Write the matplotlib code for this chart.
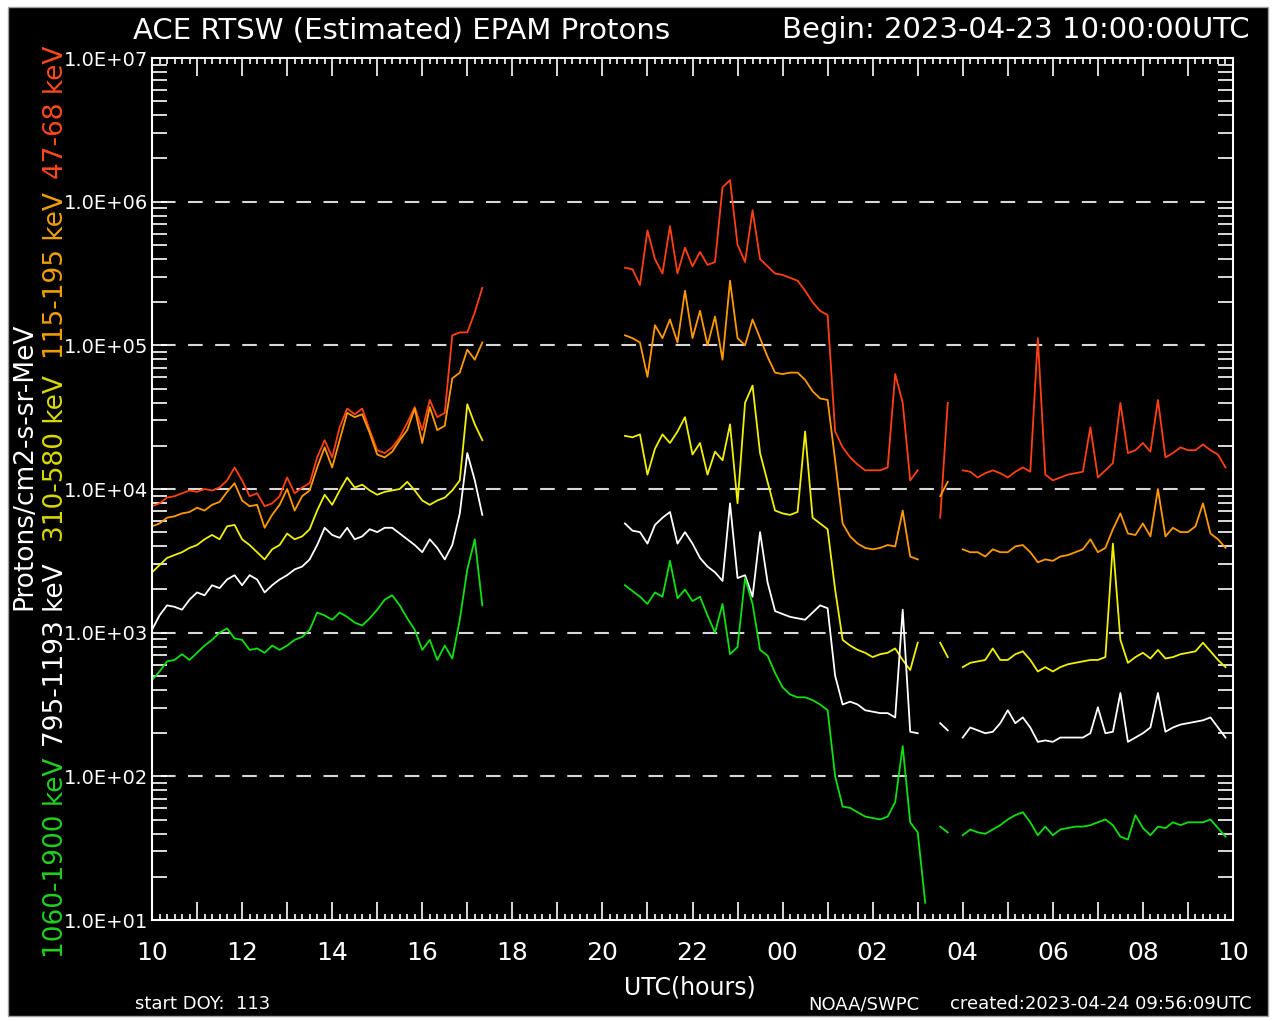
import numpy as np
import matplotlib
matplotlib.use("Agg")
import matplotlib.pyplot as plt
from matplotlib.patches import Rectangle
from matplotlib.ticker import FixedLocator, FixedFormatter, LogLocator, FuncFormatter, NullFormatter

W, H = 1275, 1021

# sample times, hours from 00 UT 2023-04-23 (10-minute samples)
t_a = np.linspace(10.0, 17 + 2 / 6, 45)       # 10:00 - 17:20
t_b = np.linspace(20.5, 27.0, 40)             # 20:30 - 03:00
t_b_green = np.linspace(20.5, 27 + 1 / 6, 41) # green runs one sample longer
t_c = np.array([27.5, 27 + 4 / 6])            # short burst near 03:30
t_d = np.linspace(28.0, 33 + 5 / 6, 36)       # 04:00 - 09:50

# log10 of flux (protons/cm2-s-sr-MeV)
p47_a = [3.88, 3.90, 3.94, 3.95, 3.97, 3.99, 3.98, 4.00, 3.99, 4.01,
         4.06, 4.15, 4.06, 3.95, 3.97, 3.88, 3.90, 3.95, 4.08, 3.97,
         4.01, 4.04, 4.22, 4.34, 4.22, 4.43, 4.56, 4.52, 4.56, 4.41,
         4.27, 4.25, 4.29, 4.36, 4.46, 4.57, 4.41, 4.62, 4.50, 4.53,
         5.07, 5.09, 5.09, 5.23, 5.40]
p47_b = [5.54, 5.53, 5.42, 5.80, 5.60, 5.50, 5.83, 5.50, 5.68, 5.55,
         5.65, 5.56, 5.58, 6.10, 6.15, 5.70, 5.58, 5.94, 5.60, 5.55,
         5.50, 5.49, 5.47, 5.45, 5.38, 5.30, 5.24, 5.21, 4.40, 4.29,
         4.22, 4.17, 4.13, 4.13, 4.13, 4.15, 4.80, 4.60, 4.06, 4.13]
p47_c = [3.80, 4.60]
p47_d = [4.13, 4.12, 4.08, 4.11, 4.13, 4.11, 4.08, 4.12, 4.15, 4.12,
         5.05, 4.10, 4.06, 4.08, 4.10, 4.11, 4.12, 4.43, 4.08, 4.13,
         4.18, 4.60, 4.25, 4.27, 4.32, 4.26, 4.62, 4.22, 4.25, 4.29,
         4.27, 4.27, 4.31, 4.27, 4.24, 4.15]

p115_a = [3.74, 3.76, 3.80, 3.81, 3.83, 3.84, 3.87, 3.85, 3.89, 3.91,
          3.98, 4.04, 3.92, 3.88, 3.89, 3.73, 3.82, 3.89, 4.00, 3.85,
          3.95, 3.99, 4.15, 4.29, 4.15, 4.34, 4.53, 4.50, 4.52, 4.39,
          4.24, 4.22, 4.26, 4.34, 4.41, 4.56, 4.32, 4.57, 4.41, 4.44,
          4.77, 4.81, 4.97, 4.90, 5.02]
p115_b = [5.07, 5.05, 5.02, 4.78, 5.14, 5.05, 5.18, 5.02, 5.38, 5.05,
          5.24, 5.00, 5.20, 4.90, 5.45, 5.05, 5.00, 5.18, 5.05, 4.92,
          4.81, 4.80, 4.81, 4.81, 4.76, 4.68, 4.63, 4.62, 4.20, 3.76,
          3.67, 3.62, 3.59, 3.58, 3.59, 3.61, 3.60, 3.85, 3.53, 3.51]
p115_c = [3.95, 4.05]
p115_d = [3.58, 3.56, 3.56, 3.53, 3.58, 3.56, 3.56, 3.60, 3.61, 3.56,
          3.49, 3.51, 3.50, 3.53, 3.54, 3.56, 3.58, 3.65, 3.56, 3.59,
          3.72, 3.83, 3.69, 3.68, 3.76, 3.67, 4.00, 3.67, 3.73, 3.70,
          3.70, 3.74, 3.90, 3.69, 3.65, 3.59]

p310_a = [3.42, 3.47, 3.52, 3.54, 3.56, 3.59, 3.61, 3.65, 3.68, 3.65,
          3.74, 3.75, 3.65, 3.61, 3.56, 3.51, 3.58, 3.61, 3.69, 3.65,
          3.67, 3.72, 3.85, 3.96, 3.89, 3.99, 4.08, 4.01, 4.03, 3.99,
          3.96, 3.98, 3.99, 4.00, 4.05, 3.99, 3.92, 3.89, 3.92, 3.94,
          3.99, 4.06, 4.59, 4.45, 4.34]
p310_b = [4.37, 4.36, 4.38, 4.10, 4.28, 4.38, 4.32, 4.40, 4.50, 4.24,
          4.32, 4.10, 4.26, 4.20, 4.45, 3.90, 4.60, 4.72, 4.25, 4.05,
          3.85, 3.83, 3.82, 3.84, 4.40, 3.80, 3.76, 3.72, 3.30, 2.95,
          2.91, 2.88, 2.86, 2.83, 2.85, 2.86, 2.89, 2.81, 2.74, 2.93]
p310_c = [2.93, 2.83]
p310_d = [2.76, 2.79, 2.80, 2.81, 2.89, 2.81, 2.81, 2.85, 2.87, 2.81,
          2.73, 2.76, 2.73, 2.76, 2.78, 2.79, 2.80, 2.81, 2.81, 2.83,
          3.62, 2.95, 2.79, 2.83, 2.86, 2.82, 2.88, 2.82, 2.83, 2.85,
          2.86, 2.87, 2.93, 2.87, 2.81, 2.76]

p795_a = [3.02, 3.12, 3.19, 3.18, 3.16, 3.23, 3.28, 3.26, 3.33, 3.31,
          3.37, 3.40, 3.33, 3.40, 3.37, 3.28, 3.33, 3.37, 3.40, 3.44,
          3.46, 3.51, 3.61, 3.73, 3.68, 3.66, 3.73, 3.65, 3.67, 3.72,
          3.70, 3.73, 3.73, 3.69, 3.65, 3.61, 3.56, 3.65, 3.59, 3.51,
          3.61, 3.83, 4.25, 4.06, 3.82]
p795_b = [3.76, 3.71, 3.70, 3.62, 3.75, 3.80, 3.84, 3.62, 3.70, 3.62,
          3.52, 3.46, 3.42, 3.36, 3.90, 3.38, 3.40, 3.25, 3.70, 3.35,
          3.15, 3.13, 3.11, 3.10, 3.09, 3.14, 3.19, 3.17, 2.70, 2.50,
          2.52, 2.50, 2.46, 2.45, 2.44, 2.44, 2.41, 3.16, 2.31, 2.30]
p795_c = [2.37, 2.32]
p795_d = [2.27, 2.34, 2.32, 2.30, 2.31, 2.37, 2.46, 2.37, 2.41, 2.34,
          2.24, 2.25, 2.24, 2.27, 2.27, 2.27, 2.27, 2.30, 2.48, 2.30,
          2.31, 2.58, 2.24, 2.27, 2.30, 2.34, 2.58, 2.31, 2.34, 2.36,
          2.37, 2.38, 2.39, 2.41, 2.34, 2.27]

p1060_a = [2.67, 2.73, 2.80, 2.81, 2.85, 2.81, 2.86, 2.91, 2.95, 3.00,
           3.03, 2.96, 2.95, 2.88, 2.89, 2.86, 2.91, 2.88, 2.91, 2.95,
           2.97, 3.02, 3.14, 3.12, 3.09, 3.14, 3.11, 3.07, 3.05, 3.10,
           3.16, 3.23, 3.26, 3.19, 3.10, 3.02, 2.88, 2.95, 2.81, 2.91,
           2.82, 3.09, 3.44, 3.65, 3.19]
p1060_b = [3.33, 3.29, 3.25, 3.20, 3.28, 3.25, 3.50, 3.24, 3.30, 3.22,
           3.25, 3.12, 3.00, 3.20, 2.85, 2.90, 3.38, 3.20, 2.88, 2.84,
           2.72, 2.62, 2.57, 2.55, 2.55, 2.53, 2.50, 2.46, 2.00, 1.79,
           1.78, 1.75, 1.72, 1.71, 1.70, 1.72, 1.82, 2.21, 1.68, 1.61,
           1.12]
p1060_c = [1.65, 1.61]
p1060_d = [1.59, 1.63, 1.61, 1.60, 1.63, 1.66, 1.70, 1.73, 1.75, 1.68,
           1.59, 1.65, 1.59, 1.63, 1.64, 1.65, 1.65, 1.66, 1.68, 1.70,
           1.66, 1.58, 1.56, 1.73, 1.64, 1.59, 1.65, 1.64, 1.68, 1.66,
           1.68, 1.68, 1.68, 1.70, 1.64, 1.58]

channel_names = ["47-68 keV", "115-195 keV", "310-580 keV", "795-1193 keV", "1060-1900 keV"]
channel_colors = ["#ff4010", "#ff9900", "#f0f000", "#ffffff", "#10e010"]
label_colors = ["#ff4a1a", "#f0a000", "#d8d800", "#ffffff", "#20d020"]

fig = plt.figure(figsize=(W / 100, H / 100), dpi=100, facecolor="white")
fig.patches.append(Rectangle((8 / W, 1 - 1016 / H), 1260 / W, 1009 / H,
                             transform=fig.transFigure, facecolor="black",
                             edgecolor="#a0a0a0", lw=1, zorder=-10))

ax = fig.add_axes([152 / W, 1 - 920 / H, 1081 / W, 862 / H])
ax.set_facecolor("black")

for v in [1e6, 1e5, 1e4, 1e3, 1e2]:
    ax.plot([10.2, 33.7], [v, v], color="#d8d8d8", lw=1.5, ls=(0, (7, 6)), zorder=1)

series = [
    (p47_a, p47_b, p47_c, p47_d, t_b),
    (p115_a, p115_b, p115_c, p115_d, t_b),
    (p310_a, p310_b, p310_c, p310_d, t_b),
    (p795_a, p795_b, p795_c, p795_d, t_b),
    (p1060_a, p1060_b, p1060_c, p1060_d, t_b_green),
]
for (a, b, c, d, tb), col in zip(series, channel_colors):
    for t, v in ((t_a, a), (tb, b), (t_c, c), (t_d, d)):
        ax.plot(t, 10 ** np.asarray(v), color=col, lw=1.3, zorder=2)

ax.set_yscale("log")
ax.set_ylim(10, 1e7)
ax.set_xlim(10, 34)

hours = list(range(10, 35))
ax.xaxis.set_major_locator(FixedLocator(hours))
ax.xaxis.set_major_formatter(FixedFormatter([f"{h % 24:02d}" if h % 2 == 0 else "" for h in hours]))
ax.xaxis.set_minor_locator(FixedLocator(np.linspace(10, 34, 145)))
ax.yaxis.set_major_locator(LogLocator(base=10, numticks=10))
ax.yaxis.set_minor_locator(LogLocator(base=10, subs=range(2, 10), numticks=20))
ax.yaxis.set_major_formatter(FuncFormatter(lambda v, p: f"{v:.1E}"))
ax.yaxis.set_minor_formatter(NullFormatter())

ax.tick_params(axis="x", which="major", direction="in", length=13, width=1.2,
               top=True, bottom=True, color="white", labelcolor="white",
               labelsize=18, pad=15)
ax.tick_params(axis="x", which="minor", direction="in", length=4.5, width=1.2,
               top=True, bottom=True, color="white")
ax.tick_params(axis="y", which="both", direction="in", length=11, width=1.2,
               left=True, right=True, color="white", labelcolor="white",
               labelsize=14, pad=3)
for s in ax.spines.values():
    s.set_color("white")
    s.set_linewidth(1.5)


def fx(px):
    return px / W


def fy(py):
    return 1 - py / H


fig.text(fx(133), fy(30), "ACE RTSW (Estimated) EPAM Protons", color="white",
         fontsize=21, ha="left", va="center")
fig.text(fx(1250), fy(30), "Begin: 2023-04-23 10:00:00UTC", color="white",
         fontsize=21, ha="right", va="center")
fig.text(fx(690), fy(987), "UTC(hours)", color="white", fontsize=17, ha="center", va="center")
fig.text(fx(135), fy(1004), "start DOY:  113", color="white", fontsize=13, ha="left", va="center")
fig.text(fx(808), fy(1004), "NOAA/SWPC", color="white", fontsize=13, ha="left", va="center")
fig.text(fx(1252), fy(1004), "created:2023-04-24 09:56:09UTC", color="white",
         fontsize=13, ha="right", va="center")

fig.text(fx(24), fy(466), "Protons/cm2-s-sr-MeV", color="white", fontsize=19,
         rotation=90, ha="center", va="center")
label_y = [112, 276, 459, 655, 858]
for name, col, y in zip(channel_names, label_colors, label_y):
    fig.text(fx(56), fy(y), name, color=col, fontsize=19, rotation=90,
             ha="center", va="center")

fig.savefig("out.png", dpi=100, facecolor=fig.get_facecolor())
